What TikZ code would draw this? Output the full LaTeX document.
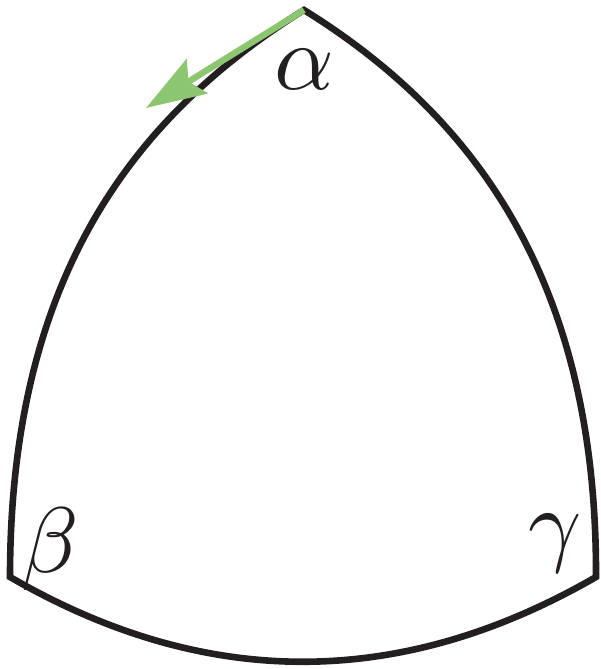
\documentclass[tikz,border=0pt]{standalone}
\usetikzlibrary{arrows.meta}
\definecolor{arrowgreen}{RGB}{140,198,112}
\definecolor{edgeblack}{RGB}{35,31,32}
\tikzset{
  side/.style={draw=edgeblack, line width=6.6pt, line join=miter},
  tangent/.style={draw=arrowgreen, line width=6.4pt, -{Stealth[length=60pt, width=40pt, inset=10pt]}},
  vlabel/.style={text=edgeblack, scale=9.3, inner sep=0pt}
}
\begin{document}
\begin{tikzpicture}[x=1pt, y=-1pt]
  \useasboundingbox (0,0) rectangle (600,669);
  \coordinate (A) at (304,10);
  \coordinate (B) at (10,577);
  \coordinate (C) at (596,577);
  \coordinate (T) at (146,108);
  \path[side] (A) .. controls (134,116) and (10,277) .. (B)
              .. controls (205,690) and (400,690) .. (C)
              .. controls (597,285) and (478,118) .. (A) -- cycle;
  \draw[tangent] (A) -- (T);
  \node[vlabel] (alpha) at (304,69) {$\alpha$};
  \node[vlabel] (beta) at (50,549) {$\beta$};
  \node[vlabel] (gamma) at (555,544) {$\gamma$};
\end{tikzpicture}
\end{document}
